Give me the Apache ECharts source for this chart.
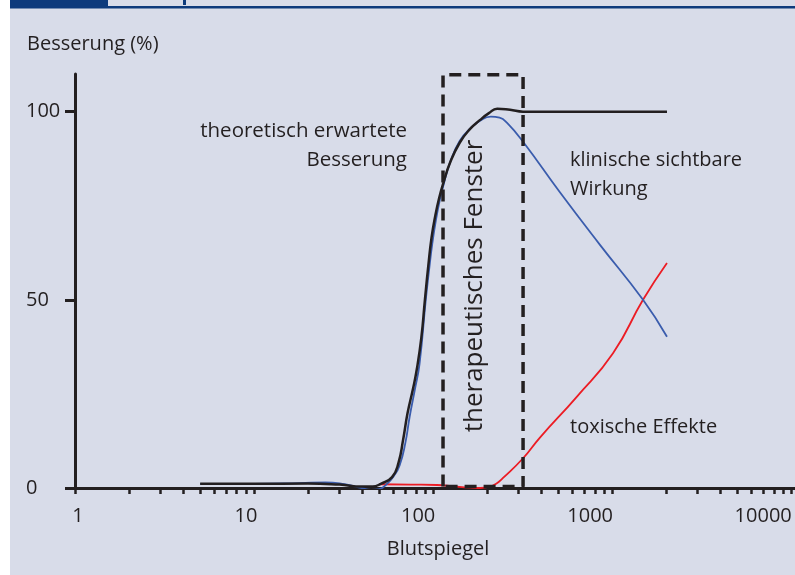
<!DOCTYPE html>
<html>
<head>
<meta charset="utf-8">
<script src="https://cdn.jsdelivr.net/npm/echarts@6/dist/echarts.min.js"></script>
<style>
  html, body { margin: 0; padding: 0; background: #fff; }
  #chart { width: 795px; height: 575px; }
</style>
</head>
<body>
<div id="chart"></div>
<script>
// Blutspiegel (x, log) / Besserung in % (y)
const xTickLabels = [1, 10, 100, 1000, 10000]
const yTickLabels = [0, 50, 100]
const decades = [1, 10, 100, 1000]
const steps = [1, 2, 3, 4, 5, 6, 7, 8, 9]

const theoretisch = [
  [5, 1.1], [10, 1.1], [20, 1.2], [30, 0.9], [40, 0.4], [46, 0.4], [51, 1.1],
  [59, 2.9], [64, 6.6], [68, 12.8], [72, 19.9], [77, 26.1], [81, 31.4], [86, 40],
  [90, 50], [94, 59], [98, 66.5], [103, 72.5], [108, 77], [114, 81], [124, 86.3],
  [141, 91.8], [161, 95.4], [183, 97.8], [205, 99.6], [228, 100.8], [269, 100.5],
  [318, 100], [512, 100], [2024, 100],
]
const klinisch = [
  [5, 1.1], [10, 1.1], [18, 1.3], [25, 1.5], [32, 1.0], [40, 0.0], [45, -0.5],
  [50, -0.3], [55, 1.0], [60, 3], [65, 6], [70, 12], [74, 19], [79, 26], [84, 33],
  [91, 50], [95, 58], [99, 65], [104, 71.5], [109, 76.5], [115, 81], [125, 86.8],
  [141, 92.3], [161, 95.5], [183, 97.6], [210, 98.7], [235, 98.4], [259, 97],
  [318, 92], [512, 78.5], [855, 64.6], [1487, 50], [2024, 40.2],
]
const toxisch = [
  [50, 1.0], [75, 0.9], [105, 0.8], [132, 0.4], [161, 0.1], [183, 0], [205, 0.3],
  [225, 1.1], [245, 2.6], [318, 7.9], [395, 13.4], [636, 24.3], [1011, 35.8],
  [1487, 50], [2024, 59.8],
]
// therapeutisches Fenster
const fensterX = [113.6, 318]
const fensterY = [0.4, 109.8]

const font = '"Open Sans", "Noto Sans", sans-serif'
const ink = '#231f20'

const xTicks = []
decades.forEach(d => steps.forEach(s => xTicks.push(d * s)))
xTicks.push(10000)

const fenster = [
  [fensterX[0], fensterY[0]], [fensterX[0], fensterY[1]],
  [fensterX[1], fensterY[1]], [fensterX[1], fensterY[0]],
  [fensterX[0], fensterY[0]],
]

const labelShift = { 1: 's0', 10: 's1', 100: 's2', 1000: 's3', 10000: 's4' }
const lbl = { fontSize: 20, fontFamily: font, color: ink }

const chart = echarts.init(document.getElementById('chart'), null, { renderer: 'canvas' })

const curve = (name, data, color, width) => ({
  name,
  type: 'line',
  data,
  smooth: true,
  showSymbol: false,
  lineStyle: { color, width },
})

const option = {
  backgroundColor: '#d8dce9',
  animation: false,
  grid: { left: 75, right: 0, top: 74, bottom: 87 },
  xAxis: {
    type: 'log',
    logBase: 10,
    min: 1,
    max: 10500,
    axisLine: { show: true, lineStyle: { color: ink, width: 3 } },
    axisTick: { show: true, length: 6, customValues: xTicks, lineStyle: { color: ink, width: 2.5 } },
    axisLabel: {
      customValues: xTickLabels,
      margin: 18,
      color: ink,
      fontFamily: font,
      fontSize: 20,
      formatter: v => '{' + labelShift[v] + '|' + v + '}',
      rich: {
        s0: Object.assign({ padding: [0, 0, 0, 6] }, lbl),
        s1: Object.assign({ padding: [0, 16, 0, 0] }, lbl),
        s2: Object.assign({ padding: [0, 30, 0, 0] }, lbl),
        s3: Object.assign({ padding: [0, 44, 0, 0] }, lbl),
        s4: Object.assign({ padding: [0, 56, 0, 0] }, lbl),
      },
    },
    splitLine: { show: false },
    minorTick: { show: false },
  },
  yAxis: {
    type: 'value',
    min: 0,
    max: 110,
    axisLine: { show: true, lineStyle: { color: ink, width: 3 } },
    axisTick: { show: true, length: 10, customValues: yTickLabels, lineStyle: { color: ink, width: 3 } },
    axisLabel: {
      customValues: yTickLabels,
      align: 'left',
      margin: 49,
      color: ink,
      fontFamily: font,
      fontSize: 20,
    },
    splitLine: { show: false },
  },
  series: [
    curve('toxische Effekte', toxisch, '#ec1c24', 1.8),
    curve('klinische sichtbare Wirkung', klinisch, '#3a5cad', 1.8),
    curve('theoretisch erwartete Besserung', theoretisch, ink, 2.5),
    {
      name: 'therapeutisches Fenster',
      type: 'line',
      data: fenster,
      showSymbol: false,
      lineStyle: { color: ink, width: 3.5, type: [12, 7] },
    },
  ],
  graphic: [
    { type: 'rect', shape: { x: 0, y: 0, width: 10, height: 575 }, style: { fill: '#fff' }, silent: true },
    { type: 'rect', shape: { x: 10, y: 0, width: 98, height: 7 }, style: { fill: '#0d3a7c' }, silent: true },
    { type: 'rect', shape: { x: 10, y: 6, width: 785, height: 2.5 }, style: { fill: '#0d3a7c' }, silent: true },
    { type: 'rect', shape: { x: 183, y: 0, width: 3, height: 5 }, style: { fill: '#0d3a7c' }, silent: true },
    {
      type: 'text', x: 27, y: 44, z: 100,
      style: { text: 'Besserung (%)', fontFamily: font, fontSize: 20, fill: ink, verticalAlign: 'middle' },
    },
    {
      type: 'text', x: 407, y: 131, z: 100,
      style: { text: 'theoretisch erwartete', fontFamily: font, fontSize: 20.5, fill: ink, align: 'right', verticalAlign: 'middle' },
    },
    {
      type: 'text', x: 407, y: 160, z: 100,
      style: { text: 'Besserung', fontFamily: font, fontSize: 20.5, fill: ink, align: 'right', verticalAlign: 'middle' },
    },
    {
      type: 'text', x: 570, y: 160, z: 100,
      style: { text: 'klinische sichtbare', fontFamily: font, fontSize: 20, fill: ink, verticalAlign: 'middle' },
    },
    {
      type: 'text', x: 570, y: 189, z: 100,
      style: { text: 'Wirkung', fontFamily: font, fontSize: 20, fill: ink, verticalAlign: 'middle' },
    },
    {
      type: 'text', x: 570, y: 427, z: 100,
      style: { text: 'toxische Effekte', fontFamily: font, fontSize: 20, fill: ink, verticalAlign: 'middle' },
    },
    {
      type: 'text', x: 438, y: 549, z: 100,
      style: { text: 'Blutspiegel', fontFamily: font, fontSize: 20, fill: ink, align: 'center', verticalAlign: 'middle' },
    },
    {
      type: 'text', x: 475, y: 286, rotation: Math.PI / 2, z: 100,
      style: { text: 'therapeutisches Fenster', fontFamily: font, fontSize: 26, fill: ink, align: 'center', verticalAlign: 'middle' },
    },
  ],
}

chart.setOption(option)
window.addEventListener('resize', () => chart.resize())
</script>
</body>
</html>
